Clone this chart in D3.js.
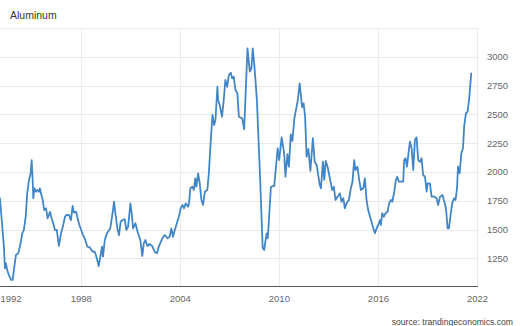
<!DOCTYPE html>
<html>
<head>
<meta charset="utf-8">
<script src="https://cdn.jsdelivr.net/npm/d3@7"></script>
<style>
  html, body { margin: 0; padding: 0; background: #fff; }
  svg { display: block; font-family: "Liberation Sans", Arial, sans-serif; }
</style>
</head>
<body>
<svg id="chart" width="520" height="326"></svg>
<script>
// Aluminum price, USD per tonne (fractional year, value)
const years = [
  1993.11, 1993.35, 1993.41, 1993.47, 1993.55, 1993.65, 1993.78, 1993.88, 1993.98, 1994.08,
  1994.22, 1994.36, 1994.46, 1994.56, 1994.67, 1994.76, 1994.87, 1994.97, 1995.03, 1995.09,
  1995.13, 1995.19, 1995.29, 1995.39, 1995.47, 1995.53, 1995.59, 1995.70, 1995.79, 1995.90,
  1996.00, 1996.14, 1996.24, 1996.34, 1996.44, 1996.55, 1996.68, 1996.81, 1996.91, 1997.05,
  1997.15, 1997.29, 1997.41, 1997.51, 1997.59, 1997.72, 1997.79, 1997.92, 1998.14, 1998.28,
  1998.40, 1998.55, 1998.64, 1998.75, 1998.85, 1998.95, 1999.09, 1999.21, 1999.29, 1999.35,
  1999.46, 1999.55, 1999.65, 1999.79, 1999.90, 2000.02, 2000.10, 2000.22, 2000.32, 2000.42,
  2000.52, 2000.67, 2000.76, 2000.87, 2001.01, 2001.11, 2001.17, 2001.31, 2001.47, 2001.61,
  2001.73, 2001.82, 2001.92, 2002.04, 2002.18, 2002.32, 2002.48, 2002.62, 2002.73, 2002.81,
  2002.99, 2003.09, 2003.25, 2003.39, 2003.49, 2003.59, 2003.70, 2003.79, 2003.94, 2004.06,
  2004.16, 2004.26, 2004.36, 2004.50, 2004.56, 2004.64, 2004.76, 2004.85, 2004.94, 2005.01,
  2005.11, 2005.21, 2005.31, 2005.41, 2005.52, 2005.67, 2005.76, 2005.88, 2005.98, 2006.08,
  2006.16, 2006.28, 2006.32, 2006.42, 2006.56, 2006.67, 2006.76, 2006.87, 2006.97, 2007.09,
  2007.17, 2007.27, 2007.37, 2007.49, 2007.58, 2007.78, 2007.90, 2008.10, 2008.24, 2008.34,
  2008.42, 2008.53, 2008.67, 2008.87, 2009.02, 2009.11, 2009.26, 2009.33, 2009.52, 2009.72,
  2009.93, 2010.02, 2010.17, 2010.32, 2010.40, 2010.52, 2010.61, 2010.72, 2010.82, 2010.94,
  2011.15, 2011.26, 2011.41, 2011.50, 2011.59, 2011.68, 2011.79, 2011.91, 2012.06, 2012.17,
  2012.29, 2012.47, 2012.55, 2012.67, 2012.75, 2012.84, 2012.95, 2013.09, 2013.23, 2013.33,
  2013.43, 2013.55, 2013.70, 2013.79, 2013.90, 2014.00, 2014.10, 2014.24, 2014.36, 2014.46,
  2014.56, 2014.64, 2014.76, 2014.85, 2014.97, 2015.11, 2015.21, 2015.31, 2015.41, 2015.58,
  2015.72, 2015.82, 2015.92, 2016.06, 2016.12, 2016.18, 2016.26, 2016.36, 2016.46, 2016.58,
  2016.68, 2016.79, 2016.87, 2016.99, 2017.09, 2017.17, 2017.27, 2017.43, 2017.53, 2017.59,
  2017.67, 2017.76, 2017.84, 2017.94, 2018.04, 2018.14, 2018.24, 2018.34, 2018.44, 2018.55,
  2018.64, 2018.74, 2018.85, 2018.95, 2019.01, 2019.15, 2019.25, 2019.41, 2019.55, 2019.65,
  2019.76, 2019.91, 2020.02, 2020.12, 2020.22, 2020.30, 2020.40, 2020.50, 2020.61, 2020.70,
  2020.79, 2020.85, 2020.95, 2021.05, 2021.15, 2021.23, 2021.33, 2021.43, 2021.53, 2021.65
];
const prices = [
  1771, 1351, 1163, 1207, 1148, 1105, 1062, 1062, 1177, 1279,
  1293, 1380, 1467, 1496, 1611, 1814, 1930, 1988, 2103, 1930,
  1771, 1858, 1828, 1843, 1828, 1858, 1814, 1756, 1669, 1684,
  1597, 1654, 1597, 1554, 1496, 1496, 1357, 1467, 1519, 1611,
  1626, 1626, 1582, 1704, 1646, 1654, 1611, 1539, 1452, 1409,
  1351, 1345, 1322, 1307, 1307, 1264, 1183, 1279, 1351, 1264,
  1409, 1452, 1481, 1510, 1611, 1741, 1641, 1510, 1452, 1568,
  1582, 1589, 1496, 1524, 1727, 1611, 1510, 1554, 1467, 1409,
  1270, 1380, 1409, 1357, 1374, 1357, 1307, 1293, 1351, 1380,
  1437, 1452, 1424, 1437, 1510, 1437, 1496, 1539, 1611, 1684,
  1713, 1684, 1727, 1698, 1727, 1858, 1871, 1843, 1944, 1871,
  1988, 1901, 1756, 1713, 1828, 1843, 1988, 2277, 2494, 2407,
  2450, 2739, 2624, 2581, 2479, 2639, 2798, 2739, 2841, 2861,
  2812, 2826, 2711, 2682, 2479, 2465, 2370, 3073, 2870, 2899,
  3073, 2902, 2624, 1930, 1339, 1322, 1467, 1424, 1871, 1878,
  2205, 2103, 2300, 2161, 1958, 2155, 2045, 2325, 2268, 2465,
  2624, 2769, 2563, 2595, 2479, 2132, 2199, 2008, 2292, 2088,
  2060, 1891, 1858, 2088, 1930, 2095, 2045, 1944, 1843, 1871,
  1756, 1785, 1814, 1741, 1771, 1684, 1727, 1756, 1858, 1915,
  2103, 2016, 2045, 1944, 1843, 1858, 1944, 1756, 1669, 1582,
  1510, 1467, 1510, 1554, 1582, 1539, 1641, 1611, 1641, 1654,
  1727, 1756, 1741, 1828, 1930, 1958, 1915, 1915, 1915, 2103,
  2118, 2045, 2147, 2262, 2205, 2016, 2277, 2300, 2103, 2088,
  2118, 1973, 1958, 1828, 1901, 1901, 1785, 1785, 1771, 1713,
  1785, 1799, 1741, 1684, 1510, 1510, 1626, 1727, 1771, 1756,
  1858, 2045, 1988, 2161, 2205, 2407, 2509, 2523, 2639, 2856
];

const xTickYears = [1992, 1998, 2004, 2010, 2016, 2022];
const yTickValues = [1250, 1500, 1750, 2000, 2250, 2500, 2750, 3000];
const yTop = 3250;
const yBottom = 1000;
const chartTitle = "Aluminum";
const sourceNote = "source: trandingeconomics.com";

const svg = d3.select("#chart");
const plotLeft = 0, plotRight = 478;

const x = d3.scaleLinear().domain([1998, 2022]).range([80.7, 477]);
const y = d3.scaleLinear().domain([yBottom, yTop]).range([287.1, 27.9]);

// Horizontal grid, including the top frame line
svg.append("g")
  .selectAll("line")
  .data(yTickValues.concat([yTop]))
  .join("line")
  .attr("x1", plotLeft).attr("x2", plotRight)
  .attr("y1", d => Math.round(y(d)) + 0.5)
  .attr("y2", d => Math.round(y(d)) + 0.5)
  .attr("stroke", "#e9e9e9")
  .attr("stroke-width", 1);

// Vertical grid at visible year ticks
svg.append("g")
  .selectAll("line")
  .data(xTickYears.filter(d => x(d) >= plotLeft))
  .join("line")
  .attr("x1", d => Math.round(x(d)) + 0.5)
  .attr("x2", d => Math.round(x(d)) + 0.5)
  .attr("y1", y(yTop)).attr("y2", y(yBottom))
  .attr("stroke", "#ececec")
  .attr("stroke-width", 1);

// Price line
const line = d3.line()
  .x((d, i) => x(years[i]))
  .y(d => y(d))
  .curve(d3.curveLinear);

svg.append("path")
  .datum(prices)
  .attr("d", line)
  .attr("fill", "none")
  .attr("stroke", "#4286c7")
  .attr("stroke-width", 1.8)
  .attr("stroke-linejoin", "round")
  .attr("stroke-linecap", "round");

// Baseline
svg.append("line")
  .attr("x1", plotLeft).attr("x2", plotRight)
  .attr("y1", 286.5).attr("y2", 286.5)
  .attr("stroke", "#555")
  .attr("stroke-width", 1.2);

// Bottom axis labels
const xAxis = svg.append("g")
  .attr("transform", "translate(0,287)")
  .call(d3.axisBottom(x).tickValues(xTickYears).tickFormat(d3.format("d")).tickSize(0).tickPadding(8));
xAxis.select(".domain").remove();
xAxis.selectAll("text")
  .attr("font-family", "Liberation Sans, Arial, sans-serif")
  .attr("font-size", 9.5)
  .attr("fill", "#666")
  .each(function(d) {
    // keep a label inside the canvas when its tick falls left of it
    const w = this.getComputedTextLength();
    const cx = x(d);
    if (cx - w / 2 < 0) {
      d3.select(this.parentNode).attr("transform", `translate(${w / 2 + 0.5},0)`);
    }
  });

// Right axis labels
const yAxis = svg.append("g")
  .attr("transform", "translate(487,0)")
  .call(d3.axisRight(y).tickValues(yTickValues).tickFormat(d3.format("d")).tickSize(0).tickPadding(0));
yAxis.select(".domain").remove();
yAxis.selectAll("text")
  .attr("font-family", "Liberation Sans, Arial, sans-serif")
  .attr("font-size", 9.5)
  .attr("fill", "#666");

// Title
svg.append("text")
  .attr("x", 10).attr("y", 18.5)
  .attr("font-size", 10.5)
  .attr("fill", "#333")
  .text(chartTitle);

// Source note
svg.append("text")
  .attr("x", 513).attr("y", 324.5)
  .attr("text-anchor", "end")
  .attr("font-size", 8.6)
  .attr("fill", "#444")
  .text(sourceNote);
</script>
</body>
</html>
